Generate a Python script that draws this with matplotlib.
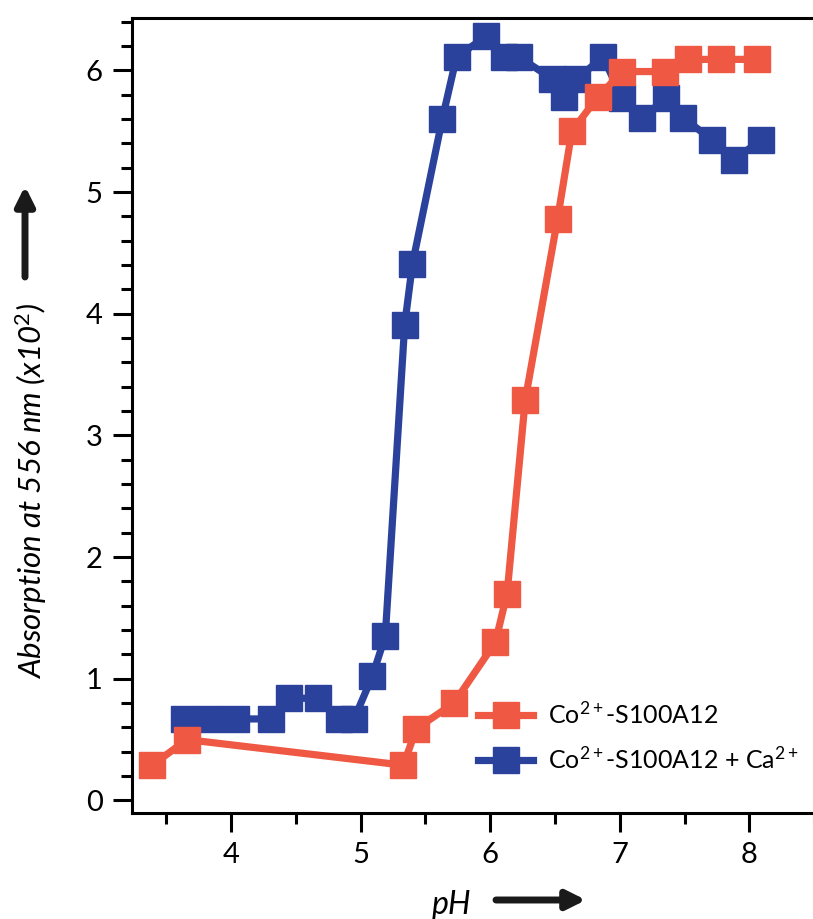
import numpy as np
import matplotlib
matplotlib.use('Agg')
import matplotlib.pyplot as plt
from matplotlib.ticker import MultipleLocator

plt.rcParams['font.family'] = ['Lato', 'DejaVu Sans']
plt.rcParams['mathtext.fontset'] = 'custom'
plt.rcParams['mathtext.rm'] = 'Lato'
plt.rcParams['mathtext.it'] = 'Lato:italic'
plt.rcParams['mathtext.bf'] = 'Lato:bold'

# Co2+-S100A12
ph_co = [3.39, 3.66, 5.33, 5.43, 5.72, 6.04, 6.13, 6.27, 6.52, 6.63, 6.83,
         7.02, 7.35, 7.53, 7.78, 8.06]
abs_co = [0.29, 0.50, 0.29, 0.59, 0.80, 1.30, 1.70, 3.29, 4.78, 5.50, 5.78,
          5.99, 5.99, 6.09, 6.09, 6.09]

# Co2+-S100A12 + Ca2+
ph_ca = [3.64, 3.84, 4.04, 4.31, 4.45, 4.67, 4.83, 4.95, 5.09, 5.19, 5.34,
         5.40, 5.63, 5.74, 5.97, 6.11, 6.22, 6.48, 6.57, 6.67, 6.87, 7.02,
         7.17, 7.36, 7.49, 7.71, 7.88, 8.09]
abs_ca = [0.67, 0.67, 0.67, 0.67, 0.84, 0.84, 0.67, 0.67, 1.02, 1.35, 3.91,
          4.41, 5.60, 6.11, 6.28, 6.11, 6.11, 5.93, 5.78, 5.93, 6.11, 5.77,
          5.61, 5.77, 5.61, 5.43, 5.26, 5.43]

labels = ['Co$^{2+}$-S100A12', 'Co$^{2+}$-S100A12 + Ca$^{2+}$']
red = '#EF5944'
blue = '#2B429C'

W, H = 813, 919
fig = plt.figure(figsize=(W / 100, H / 100), dpi=100)
ax = fig.add_axes([131.7 / W, 1 - 813 / H, (827.1 - 131.7) / W, (813 - 18) / H])

ax.plot(ph_ca, abs_ca, '-s', color=blue, lw=5.2, ms=19, label=labels[1], zorder=2)
ax.plot(ph_co, abs_co, '-s', color=red, lw=5.2, ms=19, label=labels[0], zorder=3)

ax.set_xlim(3.233, 8.6)
ax.set_ylim(-0.103, 6.43)
ax.set_xticks([4, 5, 6, 7, 8])
ax.set_yticks([0, 1, 2, 3, 4, 5, 6])
ax.xaxis.set_minor_locator(MultipleLocator(0.5))
ax.yaxis.set_minor_locator(MultipleLocator(0.2))
ax.tick_params(which='major', direction='out', length=14, width=2.2,
               labelsize=21, pad=7)
ax.tick_params(which='minor', direction='out', length=8, width=2.2)
ax.spines['right'].set_visible(False)
for s in ['left', 'bottom', 'top']:
    ax.spines[s].set_linewidth(2.2)

h, l = ax.get_legend_handles_labels()
ax.legend(h[::-1], l[::-1], loc='center left',
          bbox_to_anchor=(478 / W, 1 - 737 / H), bbox_transform=fig.transFigure,
          frameon=False, borderpad=0, borderaxespad=0, fontsize=18,
          handlelength=2.2, handletextpad=0.6, labelspacing=0.75)

# axis labels with arrows
fig.text(31 / W, 1 - 491 / H, 'Absorption at 556 nm (x10$^{2}$)', rotation=90,
         ha='center', va='center', style='italic', fontsize=22.5)
fig.text(452 / W, 1 - 905 / H, 'pH', ha='center', va='center',
         style='italic', fontsize=23)
arrow = dict(arrowstyle='-|>', lw=5, mutation_scale=28, color='#1a1a1a',
             shrinkA=0, shrinkB=0)
ax.annotate('', xy=(25 / W, 1 - 186 / H), xytext=(25 / W, 1 - 277 / H),
            xycoords='figure fraction', textcoords='figure fraction',
            arrowprops=arrow)
ax.annotate('', xy=(586 / W, 1 - 900 / H), xytext=(496 / W, 1 - 900 / H),
            xycoords='figure fraction', textcoords='figure fraction',
            arrowprops=arrow)

plt.savefig('out.png', dpi=100)
plt.close()
